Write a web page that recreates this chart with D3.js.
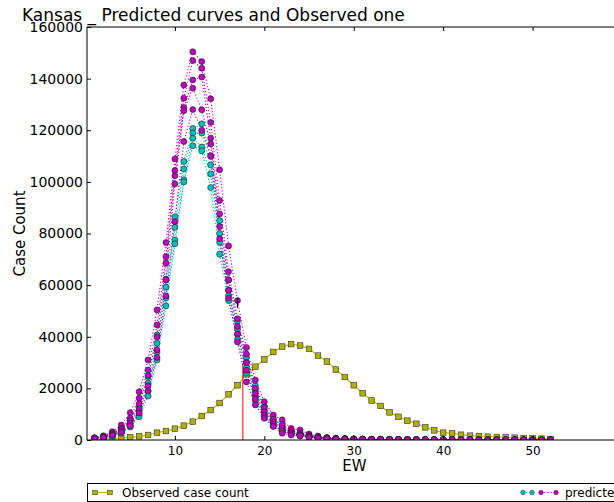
<!DOCTYPE html>
<html>
<head>
<meta charset="utf-8">
<script src="https://cdn.jsdelivr.net/npm/d3@7"></script>
<style>
    body { margin: 0; background: #fff; }
    svg { font-family: "DejaVu Sans", sans-serif; display: block; }
</style>
</head>
<body>
<svg id="chart" width="614" height="502"></svg>
<script>
// epidemic weeks
const weeks = [1, 2, 3, 4, 5, 6, 7, 8, 9, 10, 11, 12, 13, 14, 15, 16, 17, 18, 19, 20, 21, 22, 23, 24, 25, 26,
    27, 28, 29, 30, 31, 32, 33, 34, 35, 36, 37, 38, 39, 40, 41, 42, 43, 44, 45, 46, 47, 48, 49, 50, 51, 52];

const observed = [200, 350, 500, 775, 1050, 1430, 1940, 2830, 3490, 4390, 5560, 7100, 9300, 11600, 14340, 17700,
    21200, 25500, 28400, 31200, 34100, 36200, 37150, 36600, 35300, 32700, 30400, 27300, 24400, 21200, 18100, 15300,
    13200, 10700, 9000, 7500, 6300, 4900, 3750, 2840, 2580, 2050, 1680, 1420, 1290, 1160, 1030, 900, 775, 650, 520, 390];

// predicted curves, cyan runs
const predCyan1 = [600, 1200, 2400, 4200, 7500, 12900, 24500, 40700, 62300, 86500, 107900, 120700, 122500, 110100,
    85000, 62000, 46000, 32000, 21000, 13000, 8500, 5500, 3800, 2600, 1800, 1200, 800, 600, 450, 370, 310, 270, 230,
    200, 180, 160, 145, 130, 120, 110, 100, 95, 90, 85, 80, 75, 70, 65, 60, 55, 50, 45];
const predCyan2 = [500, 1000, 2000, 3600, 6500, 11500, 22000, 37500, 59200, 82400, 105000, 118900, 118900, 106600,
    80000, 58000, 43000, 30000, 19000, 11500, 7500, 4800, 3200, 2200, 1500, 1000, 700, 520, 400, 330, 280, 240, 210,
    180, 160, 145, 130, 120, 110, 100, 92, 85, 80, 75, 70, 65, 60, 55, 50, 45, 40, 35];
const predCyan3 = [400, 800, 1700, 3000, 5500, 10000, 19000, 34000, 55000, 77500, 100800, 116900, 113500, 103100,
    76600, 56000, 41000, 28000, 17000, 10000, 6500, 4000, 2700, 1900, 1300, 900, 620, 460, 360, 300, 250, 210, 180,
    160, 140, 125, 115, 105, 95, 88, 80, 75, 70, 65, 60, 55, 50, 45, 40, 36, 32, 28];
const predCyan4 = [350, 700, 1500, 2600, 5000, 9000, 17000, 31000, 52000, 76000, 100000, 114000, 112000, 97800,
    72000, 54000, 39000, 26000, 15000, 9000, 5500, 3300, 2200, 1600, 1100, 750, 520, 400, 320, 260, 220, 190, 160,
    140, 125, 110, 100, 92, 85, 78, 72, 66, 60, 55, 50, 46, 42, 38, 34, 30, 27, 24];

// predicted curves, magenta runs
const predMagenta1 = [900, 1600, 3200, 5800, 10600, 18700, 31000, 50400, 76500, 108900, 137500, 150400, 146600,
    132200, 104700, 75200, 54000, 35800, 23200, 14800, 9700, 7800, 4500, 3900, 2300, 1550, 1000, 700, 550, 450, 380,
    320, 280, 250, 220, 200, 180, 160, 150, 140, 130, 120, 110, 100, 95, 90, 85, 80, 75, 70, 65, 60];
const predMagenta2 = [700, 1400, 2800, 4500, 8400, 16200, 27100, 44600, 71000, 104400, 132400, 147000, 144000,
    123000, 92800, 65200, 47000, 33300, 20000, 12500, 8000, 6000, 3800, 2800, 1800, 1200, 800, 600, 450, 380, 320,
    280, 240, 210, 190, 170, 150, 140, 130, 120, 110, 100, 95, 90, 85, 80, 75, 70, 65, 60, 55, 50];
const predMagenta3 = [800, 1200, 2400, 4200, 7500, 14000, 25000, 40000, 68500, 102400, 128800, 139500, 140600,
    116900, 87600, 62000, 44000, 30000, 18000, 11000, 7000, 4500, 3000, 2200, 1500, 1000, 700, 500, 400, 320, 270,
    230, 200, 180, 160, 140, 130, 120, 110, 100, 95, 90, 85, 80, 75, 70, 65, 60, 55, 50, 45, 40];
const predMagenta4 = [600, 1000, 2000, 3500, 6500, 12000, 21000, 34900, 62000, 99200, 127600, 136300, 127900,
    114700, 82700, 58000, 41000, 27000, 16000, 9500, 6000, 3500, 2500, 1800, 1200, 800, 550, 400, 320, 260, 220,
    190, 170, 150, 130, 120, 110, 100, 90, 85, 80, 75, 70, 65, 60, 55, 50, 45, 40, 38, 35, 30];
const predMagenta5 = [500, 900, 1800, 3000, 5500, 10500, 19000, 32000, 55800, 84600, 115600, 128000, 120000,
    110000, 78000, 55000, 38000, 22500, 13600, 8400, 5200, 2600, 1900, 1550, 1000, 650, 450, 350, 280, 220, 190,
    160, 140, 120, 110, 100, 90, 80, 75, 70, 65, 60, 55, 50, 45, 40, 38, 35, 30, 28, 25, 20];

// red marker line and the small black tick next to the falling side
const redLine = [17.6, 29800];
const blackTick = [17, 51200, 55000];

const xTicks = [10, 20, 30, 40, 50];
const yTicks = [0, 20000, 40000, 60000, 80000, 100000, 120000, 140000, 160000];
const xDomain = [0.17, 60];
const yDomain = [0, 160000];

const CYAN = "#00bfbf", MAGENTA = "#bf00bf", YELLOW = "#bfbf00";

const svg = d3.select("#chart");
const plot = { left: 87, top: 27, right: 622, bottom: 440 };

const x = d3.scaleLinear().domain(xDomain).range([plot.left, plot.right]);
const y = d3.scaleLinear().domain(yDomain).range([plot.bottom, plot.top]);

svg.append("defs").append("clipPath").attr("id", "plotClip")
    .append("rect")
    .attr("x", plot.left).attr("y", plot.top)
    .attr("width", plot.right - plot.left).attr("height", plot.bottom - plot.top);

const body = svg.append("g").attr("clip-path", "url(#plotClip)");

const line = d3.line().x(d => x(d[0])).y(d => y(d[1]));
const zipWeeks = vals => weeks.map((w, i) => [w, vals[i]]);

// observed series
const obsData = zipWeeks(observed);
body.append("path")
    .attr("d", line(obsData))
    .attr("fill", "none")
    .attr("stroke", YELLOW)
    .attr("stroke-width", 1.2);

body.selectAll("rect.obs")
    .data(obsData)
    .join("rect")
    .attr("class", "obs")
    .attr("x", d => x(d[0]) - 2.8)
    .attr("y", d => y(d[1]) - 2.8)
    .attr("width", 5.6)
    .attr("height", 5.6)
    .attr("fill", "#b0b000")
    .attr("stroke", "#333")
    .attr("stroke-width", 0.6);

// red line
body.append("line")
    .attr("x1", x(redLine[0])).attr("x2", x(redLine[0]))
    .attr("y1", y(0)).attr("y2", y(redLine[1]))
    .attr("stroke", "#ff0000")
    .attr("stroke-width", 1);

// predicted curves
const predicted = [
    [predCyan1, CYAN], [predMagenta1, MAGENTA],
    [predCyan2, CYAN], [predMagenta2, MAGENTA],
    [predCyan3, CYAN], [predMagenta3, MAGENTA],
    [predCyan4, CYAN], [predMagenta4, MAGENTA],
    [predMagenta5, MAGENTA]
];

predicted.forEach(([vals, color]) => {
    body.append("path")
        .attr("d", line(zipWeeks(vals)))
        .attr("fill", "none")
        .attr("stroke", color)
        .attr("stroke-width", 1.1)
        .attr("stroke-dasharray", "1.2,2");
});

predicted.forEach(([vals, color]) => {
    body.append("g")
        .selectAll("circle")
        .data(zipWeeks(vals))
        .join("circle")
        .attr("cx", d => x(d[0]))
        .attr("cy", d => y(d[1]))
        .attr("r", 3)
        .attr("fill", color)
        .attr("stroke", "#222")
        .attr("stroke-width", 0.6);
});

body.append("line")
    .attr("x1", x(blackTick[0])).attr("x2", x(blackTick[0]))
    .attr("y1", y(blackTick[1])).attr("y2", y(blackTick[2]))
    .attr("stroke", "#000")
    .attr("stroke-width", 1.2);

// axes, ticks pointing inwards like old matplotlib
const xAxis = svg.append("g")
    .attr("transform", `translate(0, ${plot.bottom})`)
    .call(d3.axisBottom(x).tickValues(xTicks).tickSize(-4).tickPadding(6).tickSizeOuter(0));
const xTop = svg.append("g")
    .attr("transform", `translate(0, ${plot.top})`)
    .call(d3.axisTop(x).tickValues(xTicks).tickSize(-4).tickFormat("").tickSizeOuter(0));
const yAxis = svg.append("g")
    .attr("transform", `translate(${plot.left}, 0)`)
    .call(d3.axisLeft(y).tickValues(yTicks).tickSize(-4).tickPadding(4).tickFormat(d3.format("d")).tickSizeOuter(0));

[xAxis, xTop, yAxis].forEach(a => {
    a.select(".domain").remove();
    a.selectAll("line").attr("stroke", "#000");
    a.selectAll("text").attr("fill", "#000").style("font-family", "DejaVu Sans");
});
xAxis.selectAll("text").style("font-size", "12px");
yAxis.selectAll("text").style("font-size", "14px");

// frame: left, top, bottom (right side falls outside the picture)
svg.append("path")
    .attr("d", `M${plot.right},${plot.top}H${plot.left}V${plot.bottom}H${plot.right}`)
    .attr("fill", "none")
    .attr("stroke", "#000")
    .attr("stroke-width", 1);

// labels
svg.append("text")
    .attr("x", 22).attr("y", 21)
    .style("font-size", "17px")
    .text("Kansas _ Predicted curves and Observed one");

svg.append("text")
    .attr("x", (plot.left + plot.right) / 2).attr("y", 471)
    .attr("text-anchor", "middle")
    .style("font-size", "15px")
    .text("EW");

svg.append("text")
    .attr("transform", `translate(25, ${(plot.top + plot.bottom) / 2}) rotate(-90)`)
    .attr("text-anchor", "middle")
    .style("font-size", "15px")
    .text("Case Count");

// legend
const legend = svg.append("g");
legend.append("rect")
    .attr("x", 87.5).attr("y", 483.5)
    .attr("width", 540).attr("height", 18)
    .attr("fill", "#fff")
    .attr("stroke", "#000")
    .attr("stroke-width", 1);

const ly = 492.5;
legend.append("line")
    .attr("x1", 95).attr("x2", 110).attr("y1", ly).attr("y2", ly)
    .attr("stroke", YELLOW).attr("stroke-width", 1.2);
legend.selectAll("rect.key")
    .data([95, 110])
    .join("rect")
    .attr("class", "key")
    .attr("x", d => d - 2.3).attr("y", ly - 2.3)
    .attr("width", 4.6).attr("height", 4.6)
    .attr("fill", "#b0b000").attr("stroke", "#333").attr("stroke-width", 0.5);
legend.append("text")
    .attr("x", 122).attr("y", ly + 4.5)
    .style("font-size", "12px")
    .text("Observed case count");

legend.append("line")
    .attr("x1", 523).attr("x2", 532).attr("y1", ly).attr("y2", ly)
    .attr("stroke", CYAN).attr("stroke-dasharray", "1.2,2");
legend.append("line")
    .attr("x1", 541).attr("x2", 556).attr("y1", ly).attr("y2", ly)
    .attr("stroke", MAGENTA).attr("stroke-dasharray", "1.2,2");
legend.selectAll("circle")
    .data([[523, CYAN], [532, CYAN], [541, MAGENTA], [556, MAGENTA]])
    .join("circle")
    .attr("cx", d => d[0]).attr("cy", ly)
    .attr("r", 2.3)
    .attr("fill", d => d[1])
    .attr("stroke", "#222").attr("stroke-width", 0.5);
legend.append("text")
    .attr("x", 565).attr("y", ly + 4.5)
    .style("font-size", "12px")
    .text("predicted");
</script>
</body>
</html>
